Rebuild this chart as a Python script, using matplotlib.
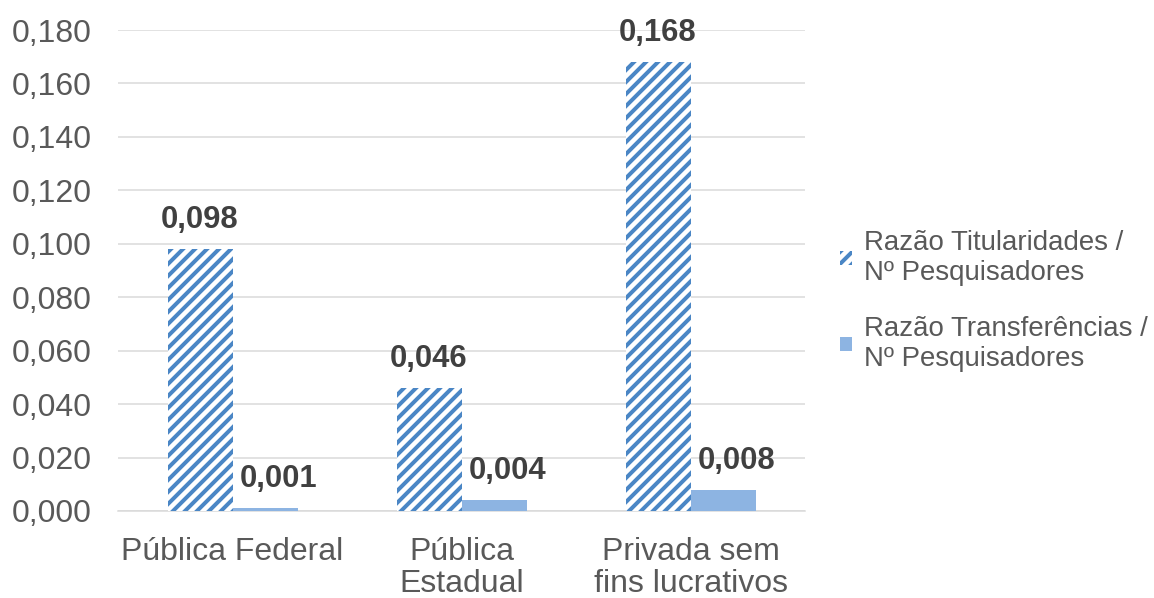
import numpy as np
import matplotlib
matplotlib.use('Agg')
import matplotlib.pyplot as plt

categories = ['Pública Federal', 'Pública\nEstadual', 'Privada sem\nfins lucrativos']
titularidades = [0.098, 0.046, 0.168]
transferencias = [0.001, 0.004, 0.008]
labels_tit = ['0,098', '0,046', '0,168']
labels_tra = ['0,001', '0,004', '0,008']
series_names = ['Razão Titularidades /\nNº Pesquisadores', 'Razão Transferências /\nNº Pesquisadores']
yticks = np.arange(0, 0.181, 0.02)

plt.rcParams['font.family'] = ['Liberation Sans', 'DejaVu Sans']
plt.rcParams['hatch.linewidth'] = 4.0

hatch_col = '#4a86c5'
solid_col = '#8db4e2'

fig = plt.figure(figsize=(1154 / 72, 598 / 72), dpi=72)
ax = fig.add_axes([0.1023, 0.1455, 0.5953, 0.8043])

x = np.arange(len(categories))
w = 0.284
b1 = ax.bar(x - w / 2, titularidades, w, facecolor='white', edgecolor=hatch_col,
            hatch='//', linewidth=0, label=series_names[0], zorder=3)
b2 = ax.bar(x + w / 2, transferencias, w, color=solid_col, linewidth=0,
            label=series_names[1], zorder=3)

# value labels above each bar
for xi, v, t in zip(x - w / 2, titularidades, labels_tit):
    ax.text(xi, v + 0.0108, t, ha='center', va='center', fontsize=31,
            fontweight='bold', color='#404040')
for xi, v, t in zip(x + w / 2, transferencias, labels_tra):
    ax.text(xi + 0.06, v + 0.0108, t, ha='center', va='center', fontsize=31,
            fontweight='bold', color='#404040')

ax.set_xlim(-0.5, 2.5)
ax.set_ylim(0, 0.18)
ax.set_yticks(yticks)
ax.set_yticklabels([f'{v:.3f}'.replace('.', ',') for v in yticks])
ax.set_xticks(x)
ax.set_xticklabels(categories, linespacing=1.1)
ax.tick_params(axis='both', length=0, labelsize=32, colors='#595959')
ax.tick_params(axis='y', pad=26)
ax.tick_params(axis='x', pad=26)

ax.grid(axis='y', color='#d9d9d9', linewidth=1.5, zorder=0)
for s in ['top', 'right', 'left']:
    ax.spines[s].set_visible(False)
ax.spines['bottom'].set_color('#d9d9d9')
ax.spines['bottom'].set_linewidth(1.5)

leg = fig.legend(handles=[b1, b2], loc='center left', bbox_to_anchor=(0.728, 0.497),
                 frameon=False, fontsize=27.6, handlelength=0.42, handleheight=0.42,
                 handletextpad=0.45, labelspacing=1.1, borderpad=0, borderaxespad=0,
                 labelcolor='#595959')
for t in leg.get_texts():
    t.set_linespacing(1.2)

fig.savefig('out.png', dpi=72)
